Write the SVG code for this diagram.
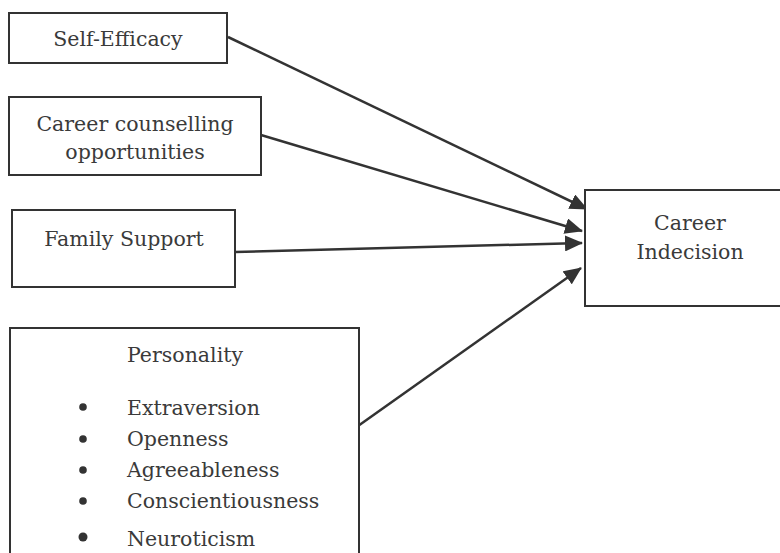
<svg xmlns="http://www.w3.org/2000/svg" width="780" height="553" viewBox="0 0 780 553">
<defs>
<style>
.box{fill:#fff;stroke:#333;stroke-width:2}
.t{font-family:"DejaVu Serif","Liberation Serif",serif;font-size:20.5px;fill:#3a3a3a}
.c{text-anchor:middle}
.ln{stroke:#333;stroke-width:2.5;fill:none}
.dot{fill:#333}
</style>
<marker id="ah" markerUnits="userSpaceOnUse" markerWidth="20" markerHeight="16" refX="17" refY="8" orient="auto">
<path d="M0,0 L18,8 L0,16 Z" fill="#333"/>
</marker>
</defs>
<rect width="780" height="553" fill="#fff"/>
<g id="connectors">
<line class="ln" x1="228" y1="37" x2="587" y2="209" marker-end="url(#ah)"/>
<line class="ln" x1="261" y1="135" x2="582" y2="231" marker-end="url(#ah)"/>
<line class="ln" x1="235" y1="252" x2="582" y2="243" marker-end="url(#ah)"/>
<line class="ln" x1="358" y1="426" x2="581" y2="268" marker-end="url(#ah)"/>
</g>
<g id="self-efficacy">
<rect class="box" x="9" y="13" width="218" height="50"/>
<text class="t c" x="118" y="46">Self-Efficacy</text>
</g>
<g id="career-counselling">
<rect class="box" x="9" y="97" width="252" height="78"/>
<text class="t c" x="135" y="131">Career counselling</text>
<text class="t c" x="135" y="159">opportunities</text>
</g>
<g id="family-support">
<rect class="box" x="12" y="210" width="223" height="77"/>
<text class="t c" x="124" y="246">Family Support</text>
</g>
<g id="personality">
<path class="box" d="M10,560 V328 H359 V560"/>
<text class="t c" x="185" y="362">Personality</text>
<circle class="dot" cx="83" cy="407" r="3.8"/>
<circle class="dot" cx="83" cy="439" r="3.8"/>
<circle class="dot" cx="83" cy="470" r="3.8"/>
<circle class="dot" cx="83" cy="501" r="3.8"/>
<circle class="dot" cx="83" cy="537" r="4.5"/>
<text class="t" x="127" y="415">Extraversion</text>
<text class="t" x="127" y="446">Openness</text>
<text class="t" x="127" y="477">Agreeableness</text>
<text class="t" x="127" y="508">Conscientiousness</text>
<text class="t" x="127" y="546">Neuroticism</text>
</g>
<g id="career-indecision">
<rect class="box" x="585" y="190" width="210" height="116"/>
<text class="t c" x="690" y="230">Career</text>
<text class="t c" x="690" y="259">Indecision</text>
</g>
</svg>
